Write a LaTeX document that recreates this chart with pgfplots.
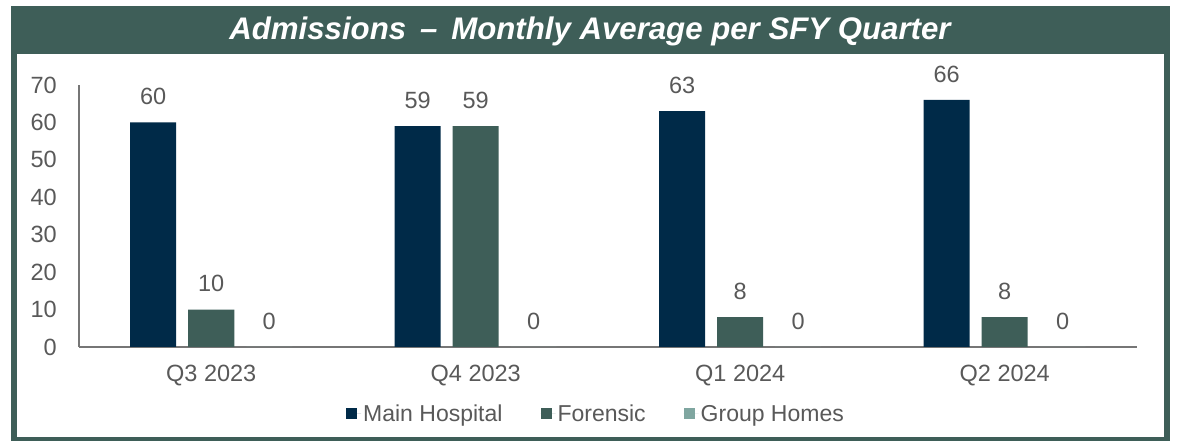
\documentclass[border=0pt]{standalone}
\usepackage{fontspec}
\setmainfont{Liberation Sans}
\usepackage{pgfplots}
\pgfplotsset{compat=1.18}
\definecolor{frame}{HTML}{3E5E58}
\definecolor{navy}{HTML}{002A48}
\definecolor{forensic}{HTML}{3E5E58}
\definecolor{ghomes}{HTML}{7FA6A0}
\definecolor{txt}{HTML}{595959}
\definecolor{axl}{HTML}{767676}
\newcommand{\lbl}{\fontsize{23.5}{28}\selectfont}
\newcommand{\lgd}{\fontsize{23}{28}\selectfont}
\begin{document}
\begin{tikzpicture}[x=1pt,y=1pt]
\path[use as bounding box, fill=white] (0,0) rectangle (1179,441);
\fill[frame] (11,0) rectangle (1170,435);
\fill[white] (16.5,4) rectangle (1164,387);
\node[text=white, font=\fontsize{31.2}{37}\selectfont\bfseries\itshape] at (590,409.5) {Admissions \,–\, Monthly Average per SFY Quarter};
\begin{axis}[at={(79pt,94pt)}, anchor=south west, scale only axis,
  width=1058pt, height=262pt,
  ybar=12pt, bar width=46pt,
  xmin=-0.5, xmax=3.5, ymin=0, ymax=70,
  xtick={0,1,2,3}, xticklabels={Q3 2023,Q4 2023,Q1 2024,Q2 2024},
  ytick={0,10,...,70},
  axis x line*=bottom, axis y line*=left,
  axis line style={axl, line width=1.5pt, -},
  major tick length=0pt, tick style={draw=none},
  /pgf/number format/assume math mode=true,
  tick label style={font=\lbl, text=txt},
  yticklabel style={anchor=east, inner sep=0pt, xshift=-22pt},
  xticklabel style={anchor=north, inner sep=0pt, yshift=-18pt},
  nodes near coords,
  every node near coord/.append style={font=\lbl, text=txt, anchor=south, inner sep=0pt, yshift=17.5pt},
  legend columns=3,
  legend style={at={(axis description cs:0.4887,-0.255)}, anchor=center, draw=none, fill=none,
    font=\lgd, text=txt, /tikz/every even column/.append style={column sep=36pt}},
  legend image code/.code={\fill[#1] (0pt,-5.5pt) rectangle (11pt,5.5pt); \path (0pt,0pt) -- (15pt,0pt);},
]
\addplot[fill=navy, draw=none] coordinates {(0,60) (1,59) (2,63) (3,66)};
\addplot[fill=forensic, draw=none] coordinates {(0,10) (1,59) (2,8) (3,8)};
\addplot[fill=ghomes, draw=none] coordinates {(0,0) (1,0) (2,0) (3,0)};
\legend{Main Hospital,Forensic,Group Homes}
\end{axis}
\end{tikzpicture}
\end{document}
